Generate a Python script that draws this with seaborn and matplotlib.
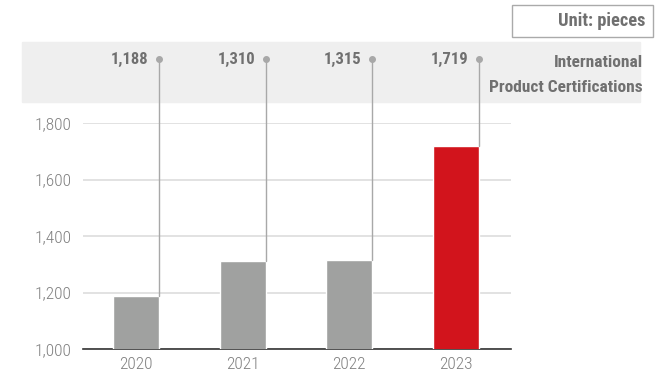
import numpy as np
import pandas as pd
import matplotlib
matplotlib.use("Agg")
import matplotlib.pyplot as plt
import matplotlib.transforms as mtransforms
from matplotlib.patches import Rectangle
from matplotlib.ticker import FuncFormatter
import seaborn as sns

# ── Data ─────────────────────────────────────
years = ["2020", "2021", "2022", "2023"]
certifications = [1188, 1310, 1315, 1719]
bar_colors = ["#a0a1a0", "#a0a1a0", "#a0a1a0", "#d2141c"]
series_name = "International\nProduct Certifications"
unit_text = "Unit: pieces"

df = pd.DataFrame({"year": years, "value": certifications})

sns.set_theme(style="white")
plt.rcParams["font.family"] = ["Roboto Condensed", "Barlow Semi Condensed", "DejaVu Sans"]

fig = plt.figure(figsize=(6.66, 3.74), dpi=100)
W, H = 666, 374

# grey header band (behind the axes)
fig.patches.append(Rectangle((22 / W, 1 - 102 / H), 618 / W, 60 / H,
                             transform=fig.transFigure, color="#efefef", zorder=-1))

ax = fig.add_axes([83 / W, 1 - 349 / H, 428 / W, 226 / H])
ax.set_facecolor("none")

sns.barplot(data=df, x="year", y="value", hue="year", palette=bar_colors,
            width=0.43, saturation=1, legend=False, ax=ax, zorder=3)

ax.set_ylim(1000, 1800)
ax.set_xlim(-0.5, 3.52)
ax.set_yticks([1000, 1200, 1400, 1600, 1800])
ax.yaxis.set_major_formatter(FuncFormatter(lambda v, p: f"{int(v):,}"))
ax.grid(axis="y", color="#dddddd", linewidth=1.2, zorder=0)
ax.set_axisbelow(True)
for s in ["top", "right", "left"]:
    ax.spines[s].set_visible(False)
ax.spines["bottom"].set_color("#333333")
ax.spines["bottom"].set_linewidth(1.2)
ax.tick_params(axis="both", length=0, labelsize=12.5, labelcolor="#808080")
ax.tick_params(axis="y", pad=8)
ax.tick_params(axis="x", pad=6)
for lbl in ax.get_xticklabels() + ax.get_yticklabels():
    lbl.set_fontweight("light")
ax.set_xlabel("")
ax.set_ylabel("")

# connector lines, dots and value labels in the header band
trans = mtransforms.blended_transform_factory(ax.transData, ax.transAxes)
dot_y = (349 - 59) / 226
for i, v in enumerate(certifications):
    xr = i + 0.215
    yb = (v - 1000) / 800
    ax.plot([xr, xr], [yb, dot_y], transform=trans, color="#a8a8a8",
            lw=1, clip_on=False, zorder=4)
    ax.plot([xr], [dot_y], transform=trans, marker="o", ms=4,
            color="#a8a8a8", clip_on=False, zorder=5)
    ax.text(xr - 0.1, dot_y, f"{v:,}", transform=trans, ha="right", va="center",
            fontsize=12, fontweight="bold", color="#707070")

fig.text(643 / W, 1 - 75 / H, series_name, ha="right", va="center",
         fontsize=12.5, fontweight="bold", color="#707070", linespacing=1.9)

# unit box
fig.patches.append(Rectangle((512 / W, 1 - 37 / H), 141 / W, 32 / H,
                             transform=fig.transFigure, facecolor="white",
                             edgecolor="#aaaaaa", lw=1, zorder=1))
fig.text(645 / W, 1 - 21 / H, unit_text, ha="right", va="center",
         fontsize=13.2, fontweight="bold", color="#707070")

plt.savefig("out.png", dpi=100)
